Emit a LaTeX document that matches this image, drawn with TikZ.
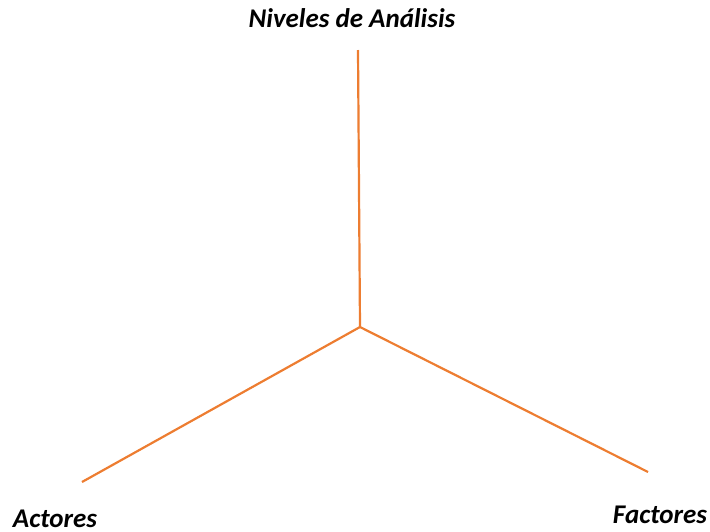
\documentclass[tikz,border=0pt]{standalone}
\usepackage{fontspec}
\setmainfont{Carlito}
\definecolor{axisorange}{HTML}{ED7D31}
\begin{document}
\begin{tikzpicture}[x=1pt,y=-1pt,
  axis/.style={draw=axisorange,line width=2.2pt},
  lbl/.style={font=\fontsize{27}{32}\selectfont\bfseries\itshape,inner sep=0pt,anchor=base,text depth=0pt}]
\useasboundingbox (0,0) rectangle (710,531);
\coordinate (c) at (360,327);
\coordinate (t) at (358,50);
\coordinate (l) at (82,482);
\coordinate (r) at (648,472);
\draw[axis] (t) -- (c);
\draw[axis] (c) -- (l);
\draw[axis] (c) -- (r);
\node[lbl] (nivel) at (352,27) {Niveles de Análisis};
\node[lbl] (act) at (55,527) {Actores};
\node[lbl] (fac) at (660,523) {Factores};
\end{tikzpicture}
\end{document}
